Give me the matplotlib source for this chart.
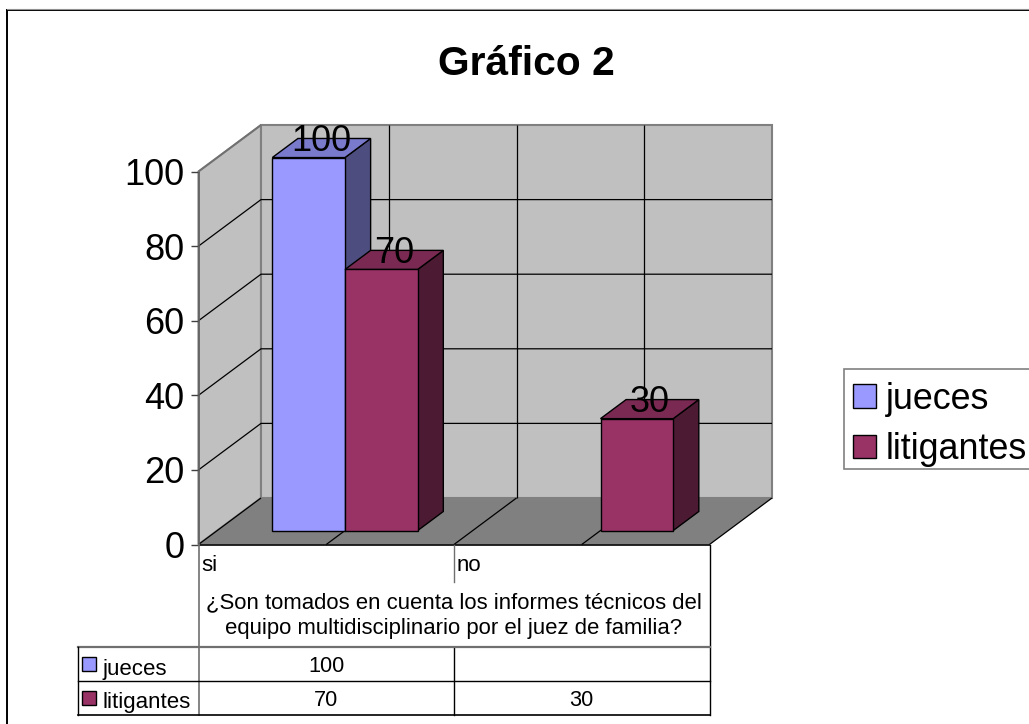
"""Gráfico 2: columnas 3D dibujadas sobre ejes 2D, con tabla de datos"""
import matplotlib
matplotlib.use("Agg")
import matplotlib.pyplot as plt
from matplotlib.patches import Polygon, Patch, Rectangle

categories = ["si", "no"]
series_names = ["jueces", "litigantes"]
jueces = [100, None]
litigantes = [70, 30]
y_ticks = [0, 20, 40, 60, 80, 100]
title = "Gráfico 2"
axis_title = "¿Son tomados en cuenta los informes técnicos del\nequipo multidisciplinario por el juez de familia?"

W, H = 1029, 724
plt.rcParams["font.family"] = "Liberation Sans"

# colores: frente, tapa, lado
colors = {
    "jueces": ("#9999FF", "#7A7ACC", "#4D4D80"),
    "litigantes": ("#993366", "#7A2952", "#4D1A33"),
}
WALL = "#C0C0C0"
FLOOR = "#808080"

# plano frontal en pixeles
X0, X1 = 198.5, 709.5
Y0, Y100 = 544.5, 171.5
# profundidad en unidades de datos
DX = 62.5 / ((X1 - X0) / 2)
DY = 46.5 / ((Y0 - Y100) / 100)
BAR_W = 0.2845
D_FRONT, D_BACK = 0.30, 0.71


def px(x, y):
    return x / W, 1 - y / H


def d3(x, y, d):
    """Punto en datos con desplazamiento de profundidad d (0..1)"""
    return x + d * DX, y + d * DY


def fline(x, y, color="black", lw=1.0):
    fig.add_artist(plt.Line2D([a / W for a in x], [1 - b / H for b in y], color=color, lw=lw))


fig = plt.figure(figsize=(W / 100, H / 100), dpi=100, facecolor="white")

# marco del grafico
fline([6.5, 6.5], [9.5, 724], lw=1.4)
fline([6.5, 1029], [10, 10], lw=1.4)
fline([6.5, 1029], [8.8, 8.8], color="#909090", lw=0.8)

ax = fig.add_axes([X0 / W, 1 - Y0 / H, (X1 - X0) / W, (Y0 - Y100) / H])
ax.set_xlim(0, 2)
ax.set_ylim(0, 100)
ax.patch.set_visible(False)
for s in ax.spines.values():
    s.set_visible(False)
ax.set_xticks([])
ax.set_yticks(y_ticks)
ax.tick_params(axis="y", length=6, width=1, color="#404040", labelsize=26, pad=4)


def poly(points, fc, ec="black", lw=1.0, z=1):
    ax.add_patch(Polygon(points, closed=True, fc=fc, ec=ec, lw=lw, zorder=z, clip_on=False))


def line(points, color="black", lw=1.0, z=2):
    xs, ys = zip(*points)
    ax.plot(xs, ys, color=color, lw=lw, zorder=z, clip_on=False, solid_capstyle="butt")


# paredes y suelo
poly([d3(0, 0, 0), d3(0, 0, 1), d3(0, 100, 1), d3(0, 100, 0)], WALL, ec="#808080", lw=1.5)
poly([d3(0, 0, 1), d3(2, 0, 1), d3(2, 100, 1), d3(0, 100, 1)], WALL, ec="#808080", lw=1.5)
poly([d3(0, 0, 0), d3(2, 0, 0), d3(2, 0, 1), d3(0, 0, 1)], FLOOR, ec="none", lw=0)

for v in y_ticks[1:-1]:
    line([d3(0, v, 0), d3(0, v, 1), d3(2, v, 1)], lw=0.9)
line([d3(0, 100, 0), d3(0, 100, 1)], color="#707070", lw=1.2)
line([d3(0, 0, 0), d3(0, 0, 1)], lw=0.9)
for x in [0.5, 1.0, 1.5]:
    line([d3(x, 0, 1), d3(x, 100, 1)], lw=0.9)
    line([d3(x, 0, 0), d3(x, 0, 1)], lw=0.9)
line([d3(2, 0, 0), d3(2, 0, 1)], lw=0.9)
line([d3(0, 0, 0), d3(2, 0, 0)], lw=1.2, z=3)
line([d3(0, 0, 0), d3(0, 100, 0)], color="#606060", lw=1.2, z=3)

# columnas
left0 = (1 - 2 * BAR_W) / 2
z = 5
for i in range(len(categories)):
    for j, (name, vals) in enumerate(zip(series_names, [jueces, litigantes])):
        v = vals[i]
        if v is None:
            continue
        x_l = i + left0 + j * BAR_W
        x_r = x_l + BAR_W
        front, top, side = colors[name]
        poly([d3(x_r, 0, D_FRONT), d3(x_r, 0, D_BACK), d3(x_r, v, D_BACK), d3(x_r, v, D_FRONT)], side, z=z)
        poly([d3(x_l, v, D_FRONT), d3(x_r, v, D_FRONT), d3(x_r, v, D_BACK), d3(x_l, v, D_BACK)], top, z=z)
        poly([d3(x_l, 0, D_FRONT), d3(x_r, 0, D_FRONT), d3(x_r, v, D_FRONT), d3(x_l, v, D_FRONT)], front, z=z)
        z += 1
        lx, ly = d3((x_l + x_r) / 2, v, (D_FRONT + D_BACK) / 2)
        ax.annotate(str(v), (lx, ly), xytext=(0, 4.5), textcoords="offset points", annotation_clip=False,
                    ha="center", va="center", fontsize=26, color="black", zorder=20)

fig.text(*px(526, 64), title, ha="center", va="center", fontsize=29.3, fontweight="bold")

# leyenda: el recuadro va aparte y se corta en el borde derecho
fig.add_artist(Rectangle(px(844, 469), 190 / W, 100 / H, transform=fig.transFigure,
                         fc="white", ec="#808080", lw=1.2))
handles = [Patch(fc=colors[n][0], ec="black", lw=1) for n in series_names]
leg = fig.legend(handles, series_names, loc="upper left", bbox_to_anchor=px(844.5, 373),
                 bbox_transform=fig.transFigure, fontsize=25.8, frameon=False,
                 borderaxespad=0, borderpad=0.24,
                 handlelength=0.64, handleheight=0.64, handletextpad=0.28, labelspacing=0.43)

# tabla de datos
x_tab = [77.5, X0, (X0 + X1) / 2, X1]
y_mid, y_head, y_r1, y_r2 = 581.5, 647, 681, 714.5

fline([X0, X0], [Y0, y_r2], color="#707070", lw=1.2)
fline([X1, X1], [Y0, y_r2], lw=1.0)
fline([x_tab[2], x_tab[2]], [Y0, y_mid], color="#707070", lw=1.0)
fline([x_tab[2], x_tab[2]], [y_head, y_r2], lw=1.0)
fline([x_tab[0], X1], [y_head, y_head], color="#707070", lw=1.6)
fline([x_tab[0], X1], [y_r1, y_r1], lw=1.0)
fline([x_tab[0], X1], [y_r2, y_r2], lw=1.2)
fline([x_tab[0], x_tab[0]], [y_head, y_r2], lw=1.0)

for k, name in enumerate(categories):
    fig.text(*px(x_tab[k + 1] + 3, 571), name, ha="left", va="baseline", fontsize=16)
fig.text(*px((X0 + X1) / 2 - 0.5, 615.5), axis_title, ha="center", va="center", fontsize=15.9, linespacing=1.33)

rows = [jueces, litigantes]
row_tops = [y_head, y_r1]
row_bots = [y_r1, y_r2]
for r, name in enumerate(series_names):
    yc = (row_tops[r] + row_bots[r]) / 2
    fig.add_artist(Rectangle(px(82, yc + 7), 14 / W, 14 / H, transform=fig.transFigure,
                             fc=colors[name][0], ec="black", lw=1))
    fig.text(*px(103, yc + 10.5), name, ha="left", va="baseline", fontsize=16)
    for c, v in enumerate(rows[r]):
        if v is not None:
            fig.text(*px((x_tab[c + 1] + x_tab[c + 2]) / 2, yc + 8.5), str(v), ha="center", va="baseline", fontsize=15.7)

fig.savefig("out.png", dpi=100)
